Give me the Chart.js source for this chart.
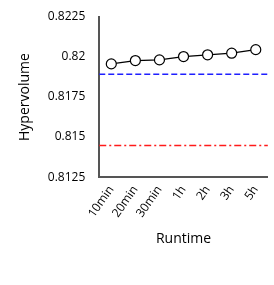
<!DOCTYPE html>
<html><head><meta charset="utf-8">
<script src="https://cdn.jsdelivr.net/npm/chart.js@4/dist/chart.umd.min.js"></script>
<style>html,body{margin:0;padding:0;background:#fff}#w{width:274px;height:285px}</style>
</head><body><div id="w"><canvas id="c"></canvas></div>
<script>
const categories = ["10min","20min","30min","1h","2h","3h","5h"];
const hypervolume = [0.81957, 0.81978, 0.81982, 0.82003, 0.82014, 0.82024, 0.82046];
const blueRef = 0.81892;
const redRef = 0.81448;
const yTicks = [0.8125, 0.815, 0.8175, 0.82, 0.8225];
const yTickLabels = ["0.8125","0.815","0.8175","0.82","0.8225"];

const refLines = {
  id: 'refLines',
  beforeDatasetsDraw(chart) {
    const {ctx, chartArea, scales} = chart;
    const draw = (v, color, dash) => {
      const y = scales.y.getPixelForValue(v);
      ctx.save();
      ctx.strokeStyle = color; ctx.lineWidth = 1.5; ctx.setLineDash(dash);
      ctx.beginPath(); ctx.moveTo(chartArea.left, y); ctx.lineTo(chartArea.right, y); ctx.stroke();
      ctx.restore();
    };
    draw(blueRef, '#1f1fff', [6, 3]);
    draw(redRef, '#ff1a1a', [7, 3, 2, 3]);
  }
};

const font = {family: "'Open Sans', sans-serif", size: 12};
const tfont = {family: "'Open Sans', sans-serif", size: 14};
new Chart(document.getElementById('c'), {
  type: 'line',
  data: {
    labels: categories,
    datasets: [{
      data: hypervolume,
      borderColor: '#000', borderWidth: 1.2,
      pointBackgroundColor: '#fff', pointBorderColor: '#000', pointBorderWidth: 1.2,
      pointRadius: 5, tension: 0
    }]
  },
  options: {
    responsive: true, maintainAspectRatio: false, animation: false,
    layout: {padding: {left: 13, right: 0, top: 17, bottom: 34}},
    plugins: {legend: {display: false}, tooltip: {enabled: false}},
    scales: {
      x: {
        offset: true,
        grid: {display: false, drawTicks: false},
        border: {display: true, color: '#555', width: 2},
        ticks: {color: '#000', font, maxRotation: 55, minRotation: 55, padding: 6, autoSkip: false},
        title: {display: true, text: 'Runtime', color: '#000', font: tfont, padding: {top: 4}}
      },
      y: {
        min: 0.8125, max: 0.8225,
        afterBuildTicks(s) { s.ticks = yTicks.map(v => ({value: v})); },
        afterFit(s) { s.paddingTop = 0; s.paddingBottom = 0; },
        grid: {display: false, drawTicks: false},
        border: {display: true, color: '#555', width: 2},
        ticks: {color: '#000', font, padding: 14, callback: (v, i) => yTickLabels[i]},
        title: {display: true, text: 'Hypervolume', color: '#000', font: tfont, padding: {bottom: 0}}
      }
    }
  },
  plugins: [refLines]
});
</script></body></html>
